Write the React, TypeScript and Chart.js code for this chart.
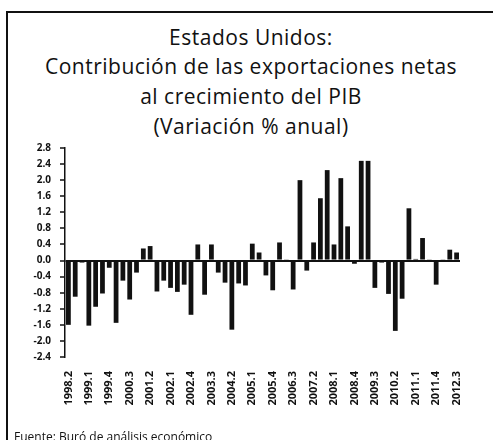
import React, { useEffect, useRef } from "react";
import { Chart, registerables } from "chart.js";

Chart.register(...registerables);

const quarters = [
  "1998.2", "1998.3", "1998.4",
  "1999.1", "1999.2", "1999.3", "1999.4",
  "2000.1", "2000.2", "2000.3", "2000.4",
  "2001.1", "2001.2", "2001.3", "2001.4",
  "2002.1", "2002.2", "2002.3", "2002.4",
  "2003.1", "2003.2", "2003.3", "2003.4",
  "2004.1", "2004.2", "2004.3", "2004.4",
  "2005.1", "2005.2", "2005.3", "2005.4",
  "2006.1", "2006.2", "2006.3", "2006.4",
  "2007.1", "2007.2", "2007.3", "2007.4",
  "2008.1", "2008.2", "2008.3", "2008.4",
  "2009.1", "2009.2", "2009.3", "2009.4",
  "2010.1", "2010.2", "2010.3", "2010.4",
  "2011.1", "2011.2", "2011.3", "2011.4",
  "2012.1", "2012.2", "2012.3",
];

const netExportContribution = [
  -1.6, -0.9, -0.05,
  -1.62, -1.15, -0.82, -0.18,
  -1.55, -0.5, -0.97, -0.3,
  0.3, 0.36, -0.77, -0.5,
  -0.68, -0.78, -0.6, -1.35,
  0.4, -0.85, 0.4, -0.3,
  -0.55, -1.72, -0.57, -0.62,
  0.42, 0.2, -0.37, -0.74,
  0.45, 0.03, -0.72, 2.0,
  -0.25, 0.45, 1.55, 2.25,
  0.4, 2.05, 0.85, -0.08,
  2.48, 2.48, -0.68, -0.05,
  -0.83, -1.75, -0.95, 1.3,
  0.04, 0.56, 0.03, -0.6,
  0.03, 0.27, 0.2,
];

const yMin = -2.4;
const yMax = 2.8;
const yStep = 0.4;

const titleLines = [
  "Estados Unidos:",
  "Contribución de las exportaciones netas",
  "al crecimiento del PIB",
  "(Variación % anual)",
];

const sourceNote = "Fuente: Buró de análisis económico";

export default function App() {
  const canvasRef = useRef<HTMLCanvasElement | null>(null);

  useEffect(() => {
    if (!canvasRef.current) return;
    const chart = new Chart(canvasRef.current, {
      type: "bar",
      data: {
        labels: quarters,
        datasets: [
          {
            data: netExportContribution,
            backgroundColor: "#111",
            borderWidth: 0,
            categoryPercentage: 1,
            barPercentage: 0.7,
          },
        ],
      },
      options: {
        responsive: false,
        animation: false,
        layout: { padding: { left: 8, right: 33, top: 148, bottom: 33 } },
        plugins: {
          legend: { display: false },
          tooltip: { enabled: false },
          title: { display: false },
        },
        scales: {
          x: {
            grid: { display: false },
            border: { display: false },
            afterFit: (scale: any) => {
              scale.height = 50;
            },
            ticks: {
              autoSkip: false,
              maxRotation: 90,
              minRotation: 90,
              padding: 6,
              color: "#111",
              font: { family: "'Open Sans'", size: 11, weight: "bold" },
              callback: (_v: any, i: number) => (i % 3 === 0 ? quarters[i] : ""),
            },
          },
          y: {
            min: yMin,
            max: yMax,
            afterFit: (scale: any) => {
              scale.width = 57;
            },
            ticks: {
              stepSize: yStep,
              autoSkip: false,
              padding: 9,
              color: "#111",
              font: { family: "'Open Sans'", size: 10, weight: "bold" },
              callback: (v: any) => Number(v).toFixed(1),
            },
            grid: {
              drawOnChartArea: true,
              color: (ctx: any) =>
                ctx.tick && Math.abs(ctx.tick.value) < 1e-9 ? "#111" : "rgba(0,0,0,0)",
              lineWidth: 2,
              tickColor: "#111",
              tickWidth: 1.5,
              tickLength: 5,
            },
            border: { display: true, color: "#111", width: 1.5 },
          },
        },
      },
    });
    return () => chart.destroy();
  }, []);

  return (
    <div
      style={{
        position: "absolute",
        left: 0,
        top: 0,
        width: 493,
        height: 440,
        overflow: "hidden",
        background: "#fff",
      }}
    >
      <div
        style={{
          position: "absolute",
          left: 6,
          top: 11,
          width: 600,
          height: 600,
          border: "2px solid #111",
        }}
      />
      <div
        style={{
          position: "absolute",
          left: 0,
          top: 22.5,
          width: 502,
          textAlign: "center",
          fontFamily: "'Open Sans', sans-serif",
          fontSize: 21,
          lineHeight: "29.7px",
          letterSpacing: "0.5px",
          color: "#111",
          whiteSpace: "nowrap",
        }}
      >
        {titleLines.map((t) => (
          <div key={t}>{t}</div>
        ))}
      </div>
      <canvas
        ref={canvasRef}
        width={493}
        height={440}
        style={{ position: "absolute", left: 0, top: 0, width: 493, height: 440 }}
      />
      <div
        style={{
          position: "absolute",
          left: 14,
          top: 430,
          fontSize: 12,
          lineHeight: "14px",
          fontFamily: "'Open Sans', sans-serif",
          color: "#111",
          whiteSpace: "nowrap",
        }}
      >
        {sourceNote}
      </div>
    </div>
  );
}
